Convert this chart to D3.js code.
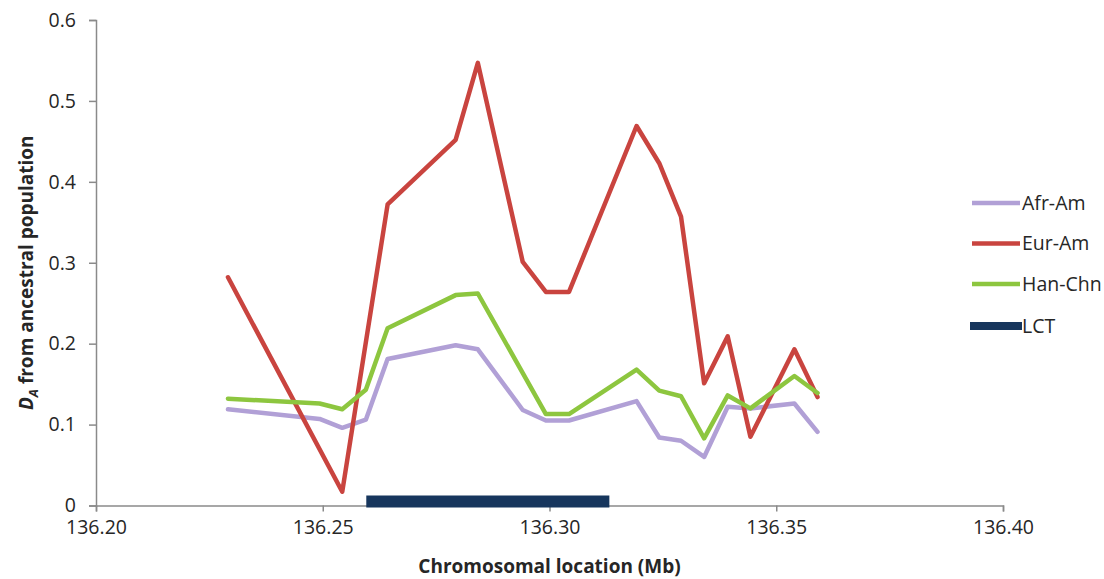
<!DOCTYPE html>
<html>
<head>
<meta charset="utf-8">
<script src="https://cdn.jsdelivr.net/npm/d3@7"></script>
<style>
  body { margin: 0; background: #fff; }
  svg { display: block; }
  text { font-family: "Open Sans", sans-serif; fill: #262626; }
</style>
</head>
<body>
<svg id="chart" width="1104" height="579"></svg>
<script>
// Positions in Mb along chromosome
const positions = [136.2291, 136.2493, 136.2543, 136.2595, 136.2643, 136.2793, 136.2842, 136.2941, 136.2992, 136.3043, 136.3192, 136.3242, 136.3290, 136.3341, 136.3393, 136.3443, 136.3540, 136.3591];
const afrAm  = [0.119, 0.107, 0.096, 0.106, 0.181, 0.198, 0.193, 0.118, 0.105, 0.105, 0.129, 0.084, 0.080, 0.060, 0.122, 0.120, 0.126, 0.091];
const eurAm  = [0.282, null, 0.017, null, 0.372, 0.452, 0.547, 0.301, 0.264, 0.264, 0.469, 0.423, 0.357, 0.151, 0.209, 0.085, 0.193, 0.134];
const hanChn = [0.132, 0.126, 0.119, 0.143, 0.219, 0.260, 0.262, null, 0.113, 0.113, 0.168, 0.142, 0.135, 0.083, 0.136, 0.120, 0.160, 0.139];
const lctStart = 136.2596, lctEnd = 136.3132, lctLevel = 0.005;
const xTicks = [136.20, 136.25, 136.30, 136.35, 136.40];
const yTicks = [0, 0.1, 0.2, 0.3, 0.4, 0.5, 0.6];
const seriesNames = ["Afr-Am", "Eur-Am", "Han-Chn", "LCT"];
const seriesColors = ["#B1A0D6", "#C9443F", "#8DC63F", "#17365D"];

const svg = d3.select("#chart");
const mLeft = 96, mRight = 1003, mTop = 20, mBottom = 505.5;
const x = d3.scaleLinear().domain([136.20, 136.40]).range([mLeft, mRight]);
const y = d3.scaleLinear().domain([0, 0.6]).range([mBottom, mTop]);
const axisColor = "#8a8a8a";

// Y axis
const yAxis = svg.append("g").attr("transform", `translate(${mLeft},0)`)
  .call(d3.axisLeft(y).tickValues(yTicks).tickSize(7).tickPadding(13)
    .tickFormat(d => d === 0 ? "0" : d3.format(".1f")(d)));
yAxis.select(".domain").attr("stroke", axisColor).attr("stroke-width", 1.5);
yAxis.selectAll(".tick line").attr("stroke", axisColor).attr("stroke-width", 1.5);
yAxis.selectAll("text").style("font-size", "19.5px").attr("fill", "#262626");

// X axis
const xAxis = svg.append("g").attr("transform", `translate(0,${mBottom})`)
  .call(d3.axisBottom(x).tickValues(xTicks).tickSize(6).tickPadding(9)
    .tickFormat(d3.format(".2f")));
xAxis.select(".domain").attr("stroke", axisColor).attr("stroke-width", 1.5);
xAxis.selectAll(".tick line").attr("stroke", axisColor).attr("stroke-width", 1.5);
xAxis.selectAll("text").style("font-size", "19.5px").attr("fill", "#262626");

// LCT bar
svg.append("line")
  .attr("x1", x(lctStart)).attr("x2", x(lctEnd))
  .attr("y1", y(lctLevel)).attr("y2", y(lctLevel))
  .attr("stroke", seriesColors[3]).attr("stroke-width", 12);

const line = d3.line().x(d => x(d[0])).y(d => y(d[1]));
const series = [afrAm, eurAm, hanChn];
series.forEach((vals, i) => {
  const pts = positions.map((p, j) => [p, vals[j]]).filter(d => d[1] !== null);
  svg.append("path").datum(pts)
    .attr("d", line)
    .attr("fill", "none")
    .attr("stroke", seriesColors[i])
    .attr("stroke-width", 4.5)
    .attr("stroke-linejoin", "round")
    .attr("stroke-linecap", "round");
});

// Legend
const legY = [203, 243.5, 284, 326];
seriesNames.forEach((name, i) => {
  const g = svg.append("g");
  g.append("line")
    .attr("x1", i === 3 ? 970 : 972).attr("x2", i === 3 ? 1022 : 1020)
    .attr("y1", legY[i]).attr("y2", legY[i])
    .attr("stroke", seriesColors[i])
    .attr("stroke-width", i === 3 ? 8 : 4.5);
  g.append("text")
    .attr("x", 1022).attr("y", legY[i])
    .attr("dy", "0.35em")
    .style("font-size", "19.5px")
    .text(name);
});

// X title
svg.append("text")
  .attr("x", (mLeft + mRight) / 2).attr("y", 573)
  .attr("text-anchor", "middle")
  .style("font-size", "19px").style("font-weight", "bold")
  .text("Chromosomal location (Mb)");

// Y title
const yt = svg.append("text")
  .attr("transform", `translate(33, ${(mTop + mBottom) / 2 + 10}) rotate(-90)`)
  .attr("text-anchor", "middle")
  .style("font-size", "19px").style("font-weight", "bold");
yt.append("tspan").style("font-style", "italic").text("D");
yt.append("tspan").style("font-style", "italic").style("font-size", "13px").attr("dy", 5).text("A");
yt.append("tspan").attr("dy", -5).text(" from ancestral population");
</script>
</body>
</html>
